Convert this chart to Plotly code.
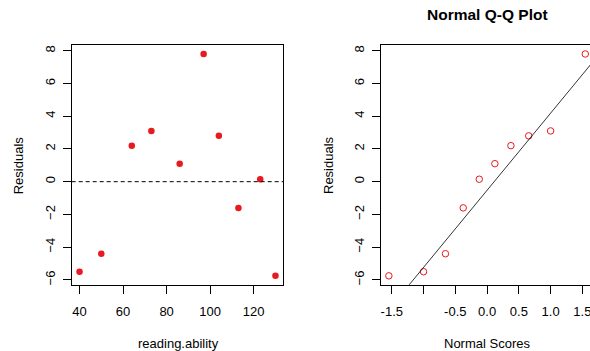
import numpy as np
from statistics import NormalDist
import plotly.graph_objects as go

# ---- data ----
reading_ability = [40, 50, 64, 73, 86, 97, 104, 113, 123, 130]
residuals = [-5.5, -4.4, 2.2, 3.1, 1.1, 7.8, 2.8, -1.6, 0.15, -5.75]

left_xticks = [40, 60, 80, 100, 120]
yticks = [-6, -4, -2, 0, 2, 4, 6, 8]
qq_xticks = [-1.5, -1.0, -0.5, 0.0, 0.5, 1.0, 1.5]
qq_xticktext = ["-1.5", "", "-0.5", "0.0", "0.5", "1.0", "1.5"]

# ---- derived (R-like) ----
n = len(residuals)
a = 3 / 8 if n <= 10 else 0.5
nd = NormalDist()
scores = [nd.inv_cdf((i - a) / (n + 1 - 2 * a)) for i in range(1, n + 1)]
sorted_res = sorted(residuals)
q25, q75 = np.quantile(residuals, [0.25, 0.75])
z25, z75 = nd.inv_cdf(0.25), nd.inv_cdf(0.75)
slope = (q75 - q25) / (z75 - z25)
intercept = q25 - slope * z25


def ext(lo, hi):
    d = (hi - lo) * 0.04
    return [lo - d, hi + d]


W, H = 590, 351
FONT = "Liberation Sans, Arial, sans-serif"
RED = "#e8191f"
FS = 13

xr1 = ext(min(reading_ability), max(reading_ability))
yr = ext(min(residuals), max(residuals))
xr2_full = ext(min(scores), max(scores))
# right panel: plot box would extend past the 590px window
left2_px, ppu2 = 381.0, 63.5
xr2 = [xr2_full[0], xr2_full[0] + (W - left2_px) / ppu2]

ydom = [(H - 284.7) / H, (H - 45.1) / H]

fig = go.Figure()
fig.add_trace(go.Scatter(
    x=reading_ability, y=residuals, mode="markers",
    marker=dict(color=RED, size=6.5, line=dict(width=0)),
    xaxis="x", yaxis="y", showlegend=False, hoverinfo="skip"))
fig.add_trace(go.Scatter(
    x=scores, y=sorted_res, mode="markers",
    marker=dict(symbol="circle-open", color=RED, size=6.5, line=dict(width=1, color=RED)),
    xaxis="x2", yaxis="y2", showlegend=False, hoverinfo="skip"))
# qq line
lx = [xr2_full[0] - 1, xr2_full[1] + 1]
fig.add_trace(go.Scatter(
    x=lx, y=[intercept + slope * v for v in lx], mode="lines",
    line=dict(color="black", width=0.8),
    xaxis="x2", yaxis="y2", showlegend=False, hoverinfo="skip"))
# dashed h line
fig.add_shape(type="line", xref="x domain", yref="y", x0=0, x1=1, y0=0, y1=0,
              line=dict(color="black", width=1, dash="4px,3px"))

axis_common = dict(showgrid=False, zeroline=False, showline=True, linecolor="black",
                   linewidth=1, ticks="outside", ticklen=8, tickwidth=1, tickcolor="black",
                   tickfont=dict(family=FONT, size=FS, color="black"), fixedrange=True,
                   ticklabeloverflow="allow")

fig.update_layout(
    width=W, height=H, margin=dict(l=0, r=0, t=0, b=0),
    paper_bgcolor="white", plot_bgcolor="white",
    xaxis=dict(domain=[71.7 / W, 283.3 / W], range=xr1, tickvals=left_xticks,
               mirror=True, anchor="y", ticklabelstandoff=7, **axis_common),
    yaxis=dict(domain=ydom, range=yr, tickvals=yticks, tickangle=-90,
               mirror=True, anchor="x", ticklabelstandoff=3, **axis_common),
    xaxis2=dict(domain=[left2_px / W, 1.0], range=xr2, tickvals=qq_xticks,
                ticktext=qq_xticktext, mirror=True, anchor="y2",
                ticklabelstandoff=7, **axis_common),
    yaxis2=dict(domain=ydom, range=yr, tickvals=yticks, tickangle=-90,
                mirror=False, anchor="x2", ticklabelstandoff=3, **axis_common),
    annotations=[
        dict(text="reading.ability", x=178 / W, y=(H - 343) / H, xref="paper", yref="paper",
             showarrow=False, font=dict(family=FONT, size=FS, color="black"),
             xanchor="center", yanchor="middle"),
        dict(text="Residuals", x=18.3 / W, y=(H - 165) / H, xref="paper", yref="paper",
             showarrow=False, textangle=-90, font=dict(family=FONT, size=FS, color="black"),
             xanchor="center", yanchor="middle"),
        dict(text="Normal Scores", x=487 / W, y=(H - 343) / H, xref="paper", yref="paper",
             showarrow=False, font=dict(family=FONT, size=FS, color="black"),
             xanchor="center", yanchor="middle"),
        dict(text="Residuals", x=328 / W, y=(H - 165) / H, xref="paper", yref="paper",
             showarrow=False, textangle=-90, font=dict(family=FONT, size=FS, color="black"),
             xanchor="center", yanchor="middle"),
        dict(text="<b>Normal Q-Q Plot</b>", x=487 / W, y=(H - 14) / H, xref="paper", yref="paper",
             showarrow=False, font=dict(family=FONT, size=15.5, color="black"),
             xanchor="center", yanchor="middle"),
    ],
)

fig.write_html("out.html")
